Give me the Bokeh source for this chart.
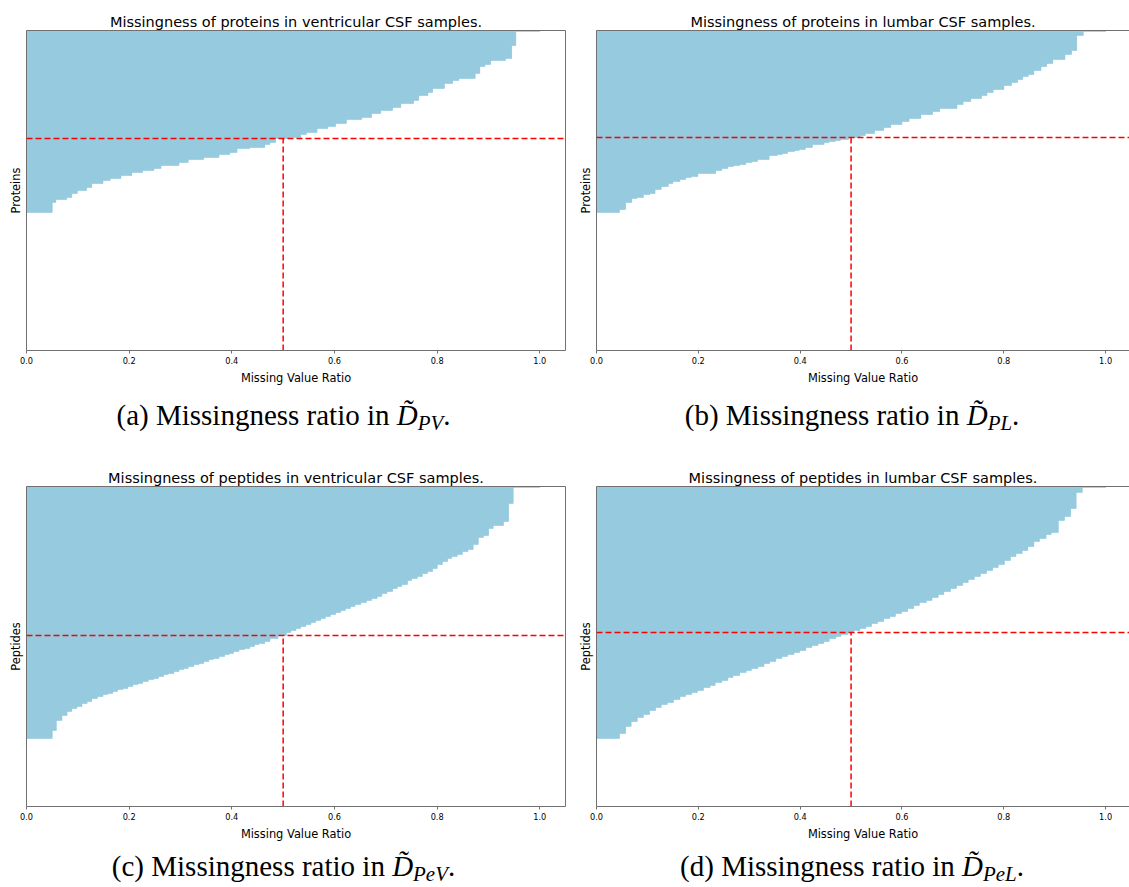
import numpy as np
from bokeh.plotting import figure
from bokeh.models import Span, LinearAxis, Div, Range1d, FixedTicker
from bokeh.layouts import row, column
from bokeh.embed import file_html
from bokeh.resources import INLINE

# ---------------- data ----------------
THRESHOLD = 0.5
X_TICKS = [0.0, 0.2, 0.4, 0.6, 0.8, 1.0]
X_TICK_LABELS = ["0.0", "0.2", "0.4", "0.6", "0.8", "1.0"]

TITLES = ["Missingness of proteins in ventricular CSF samples.",
          "Missingness of proteins in lumbar CSF samples.",
          "Missingness of peptides in ventricular CSF samples.",
          "Missingness of peptides in lumbar CSF samples."]
Y_LABELS = ["Proteins", "Proteins", "Peptides", "Peptides"]
X_LABEL = "Missing Value Ratio"
CAPTION_PREFIX = ["(a) Missingness ratio in ", "(b) Missingness ratio in ",
                  "(c) Missingness ratio in ", "(d) Missingness ratio in "]
CAPTION_SUB = ["PV", "PL", "PeV", "PeL"]

# missing-value ratio levels (sorted, highest first) and number of features at each level
prot_vent_ratio = [1.0, 0.953, 0.945, 0.933, 0.904, 0.893, 0.883, 0.874, 0.842, 0.83,
                   0.814, 0.791, 0.782, 0.764, 0.754, 0.729, 0.713, 0.69, 0.672, 0.653,
                   0.623, 0.602, 0.587, 0.566, 0.545, 0.534, 0.51, 0.485, 0.474, 0.464,
                   0.435, 0.41, 0.396, 0.375, 0.345, 0.315, 0.297, 0.262, 0.248, 0.226,
                   0.205, 0.184, 0.163, 0.149, 0.127, 0.117, 0.099, 0.088, 0.078, 0.057,
                   0.05, 0.0]
prot_vent_count = [1, 14, 13, 2, 4, 2, 7, 5, 2, 3,
                   5, 4, 3, 5, 3, 4, 3, 3, 4, 2,
                   4, 3, 2, 4, 2, 3, 1, 4, 2, 3,
                   1, 4, 2, 3, 2, 3, 3, 3, 2, 2,
                   3, 3, 2, 3, 4, 3, 3, 4, 2, 3,
                   10, 138]

prot_lumb_ratio = [1.0, 0.956, 0.943, 0.933, 0.92, 0.896, 0.884, 0.873, 0.859, 0.848,
                   0.837, 0.827, 0.815, 0.8, 0.779, 0.767, 0.756, 0.735, 0.72, 0.708,
                   0.674, 0.66, 0.637, 0.614, 0.6, 0.578, 0.564, 0.546, 0.528, 0.518,
                   0.495, 0.479, 0.469, 0.457, 0.447, 0.424, 0.41, 0.398, 0.389, 0.375,
                   0.365, 0.355, 0.339, 0.316, 0.305, 0.293, 0.281, 0.269, 0.258, 0.246,
                   0.234, 0.199, 0.186, 0.175, 0.164, 0.15, 0.141, 0.127, 0.115, 0.105,
                   0.092, 0.079, 0.069, 0.057, 0.045, 0.0]
prot_lumb_count = [1, 4, 15, 4, 5, 4, 3, 4, 4, 2,
                   3, 3, 3, 4, 3, 3, 3, 3, 3, 4,
                   3, 3, 4, 3, 3, 3, 3, 3, 2, 2,
                   2, 1, 1, 1, 2, 3, 2, 1, 1, 2,
                   1, 1, 4, 2, 1, 2, 1, 1, 2, 2,
                   3, 3, 1, 2, 2, 2, 3, 3, 4, 1,
                   3, 1, 4, 7, 3, 138]

pep_vent_ratio = [1.0, 0.948, 0.939, 0.929, 0.909, 0.9, 0.89, 0.88, 0.87, 0.86,
                  0.849, 0.839, 0.828, 0.82, 0.81, 0.8, 0.791, 0.781, 0.771, 0.761,
                  0.75, 0.742, 0.731, 0.722, 0.713, 0.702, 0.692, 0.683, 0.672, 0.662,
                  0.651, 0.64, 0.631, 0.621, 0.612, 0.602, 0.592, 0.582, 0.573, 0.563,
                  0.554, 0.544, 0.534, 0.525, 0.515, 0.506, 0.49, 0.474, 0.464, 0.453,
                  0.444, 0.435, 0.425, 0.414, 0.403, 0.395, 0.386, 0.375, 0.364, 0.355,
                  0.345, 0.336, 0.326, 0.315, 0.306, 0.297, 0.287, 0.276, 0.267, 0.257,
                  0.248, 0.237, 0.226, 0.217, 0.207, 0.197, 0.188, 0.177, 0.168, 0.158,
                  0.149, 0.138, 0.127, 0.118, 0.108, 0.098, 0.088, 0.079, 0.069, 0.058,
                  0.05, 0.0]
pep_vent_count = [1, 16, 18, 4, 3, 7, 2, 7, 5, 2,
                  3, 2, 2, 3, 3, 4, 3, 2, 3, 2,
                  2, 4, 2, 2, 3, 2, 3, 2, 2, 2,
                  2, 2, 2, 2, 2, 2, 2, 2, 2, 2,
                  2, 2, 2, 2, 2, 3, 3, 3, 2, 1,
                  2, 2, 1, 2, 2, 1, 2, 2, 1, 2,
                  2, 1, 2, 2, 1, 2, 2, 1, 2, 2,
                  1, 2, 2, 1, 2, 2, 1, 2, 2, 1,
                  2, 2, 3, 2, 3, 2, 3, 4, 5, 10,
                  8, 68]

pep_lumb_ratio = [1.0, 0.954, 0.942, 0.931, 0.919, 0.907, 0.893, 0.883, 0.87, 0.859,
                  0.847, 0.836, 0.824, 0.813, 0.801, 0.789, 0.778, 0.766, 0.754, 0.742,
                  0.73, 0.719, 0.707, 0.695, 0.682, 0.671, 0.659, 0.648, 0.634, 0.623,
                  0.611, 0.599, 0.587, 0.576, 0.564, 0.552, 0.54, 0.529, 0.517, 0.505,
                  0.494, 0.48, 0.47, 0.457, 0.446, 0.435, 0.423, 0.411, 0.399, 0.388,
                  0.375, 0.364, 0.352, 0.34, 0.329, 0.317, 0.304, 0.294, 0.281, 0.268,
                  0.258, 0.246, 0.233, 0.223, 0.21, 0.198, 0.187, 0.175, 0.164, 0.151,
                  0.139, 0.127, 0.116, 0.104, 0.092, 0.08, 0.068, 0.057, 0.045, 0.0]
pep_lumb_count = [1, 5, 16, 8, 4, 12, 2, 4, 3, 5,
                  4, 3, 3, 4, 4, 3, 3, 3, 3, 3,
                  3, 3, 3, 3, 3, 3, 3, 2, 3, 3,
                  3, 2, 3, 2, 3, 2, 3, 2, 2, 2,
                  2, 2, 2, 3, 2, 2, 2, 3, 2, 2,
                  2, 2, 3, 2, 3, 2, 2, 2, 3, 2,
                  3, 2, 3, 2, 3, 2, 2, 2, 3, 3,
                  2, 3, 3, 4, 3, 4, 5, 7, 5, 68]

# ---------------- style ----------------
BAR_COLOR = "#92c8de"
SPINE = "#707070"
SANS = "DejaVu Sans"
SERIF = "Liberation Serif"


def no_tick_axis():
    return LinearAxis(ticker=FixedTicker(ticks=[]), major_label_text_font_size="0px",
                      major_tick_out=0, major_tick_in=0, minor_tick_out=0, minor_tick_in=0,
                      major_label_standoff=0, axis_line_color=SPINE, axis_line_width=1)


def make_panel(title, ylabel, ratios, counts, width, height, x_end,
               border_left, border_top, border_bottom, border_right, right_spine):
    vals = np.repeat(np.asarray(ratios, dtype=float), np.asarray(counts, dtype=int))
    n = len(vals)
    ys = n - 0.5 - np.arange(n)
    n_above = int(np.sum(vals > THRESHOLD))
    thr_y = n - n_above

    p = figure(width=width, height=height, x_range=Range1d(0, x_end), y_range=Range1d(0, n),
               output_backend="svg", toolbar_location=None, title=title,
               min_border_left=border_left, min_border_right=border_right,
               min_border_top=border_top, min_border_bottom=border_bottom)
    p.outline_line_color = None
    p.grid.visible = False
    p.background_fill_color = "white"
    p.border_fill_color = "white"

    p.title.text_font = SANS
    p.title.text_font_size = "14.5px"
    p.title.text_font_style = "normal"
    p.title.text_color = "black"
    p.title.align = "center"
    p.title.standoff = 2

    p.hbar(y=ys, left=0, right=vals, height=1.0, fill_color=BAR_COLOR,
           line_color=BAR_COLOR, line_width=0.6)

    p.add_layout(Span(location=thr_y, dimension="width", line_color="red",
                      line_dash="6 3", line_width=1.5))
    p.segment(x0=[THRESHOLD], y0=[0], x1=[THRESHOLD], y1=[thr_y],
              line_color="red", line_dash="6 3", line_width=1.5)

    xa = p.xaxis[0]
    xa.ticker = FixedTicker(ticks=X_TICKS)
    xa.major_label_overrides = {t: l for t, l in zip(X_TICKS, X_TICK_LABELS)}
    xa.major_label_text_font = SANS
    xa.major_label_text_font_size = "8.2px"
    xa.major_label_text_color = "black"
    xa.major_label_standoff = 3
    xa.major_tick_out = 3
    xa.major_tick_in = 0
    xa.minor_tick_out = 0
    xa.minor_tick_in = 0
    xa.major_tick_line_color = SPINE
    xa.axis_line_color = SPINE
    xa.axis_label = X_LABEL
    xa.axis_label_text_font = SANS
    xa.axis_label_text_font_size = "11.4px"
    xa.axis_label_text_font_style = "normal"
    xa.axis_label_text_color = "black"
    xa.axis_label_standoff = 4

    ya = p.yaxis[0]
    ya.ticker = FixedTicker(ticks=[])
    ya.major_label_text_font_size = "0px"
    ya.major_tick_out = 0
    ya.major_tick_in = 0
    ya.minor_tick_out = 0
    ya.minor_tick_in = 0
    ya.major_label_standoff = 0
    ya.axis_line_color = SPINE
    ya.axis_label = ylabel
    ya.axis_label_text_font = SANS
    ya.axis_label_text_font_size = "11.4px"
    ya.axis_label_text_font_style = "normal"
    ya.axis_label_text_color = "black"
    ya.axis_label_standoff = 4

    p.add_layout(no_tick_axis(), "above")
    if right_spine:
        p.add_layout(no_tick_axis(), "right")
    return p


def caption(prefix, sub, width, height, inner_left, inner_width, top):
    html = ('<div style="margin-left:%dpx;width:%dpx;padding-top:%dpx;text-align:center;'
            'font-family:\'%s\',serif;font-size:29px;line-height:29px;color:#000;'
            'white-space:nowrap;">%s<i>D&#771;</i>'
            '<span style="font-size:0.72em;font-style:italic;position:relative;top:0.25em;">%s</span>.'
            '</div>') % (inner_left, inner_width, top, SERIF, prefix, sub)
    return Div(text=html, width=width, height=height, margin=(0, 0, 0, 0))


W_LEFT, W_RIGHT = 575, 554
X_END_LEFT = 1.05
X_END_RIGHT = 536 / 512  # right frame is 536 px wide at 512 px per unit

pa = make_panel(TITLES[0], Y_LABELS[0], prot_vent_ratio, prot_vent_count,
                W_LEFT, 392, X_END_LEFT, 26, 30, 42, 10, True)
pb = make_panel(TITLES[1], Y_LABELS[1], prot_lumb_ratio, prot_lumb_count,
                W_RIGHT, 392, X_END_RIGHT, 18, 30, 42, 0, False)
pc = make_panel(TITLES[2], Y_LABELS[2], pep_vent_ratio, pep_vent_count,
                W_LEFT, 396, X_END_LEFT, 26, 36, 40, 10, True)
pd = make_panel(TITLES[3], Y_LABELS[3], pep_lumb_ratio, pep_lumb_count,
                W_RIGHT, 396, X_END_RIGHT, 18, 36, 40, 0, False)

ca = caption(CAPTION_PREFIX[0], CAPTION_SUB[0], W_LEFT, 58, 0, 567, 9)
cb = caption(CAPTION_PREFIX[1], CAPTION_SUB[1], W_RIGHT, 58, 0, 554, 9)
cc = caption(CAPTION_PREFIX[2], CAPTION_SUB[2], W_LEFT, 40, 0, 567, 6)
cd = caption(CAPTION_PREFIX[3], CAPTION_SUB[3], W_RIGHT, 40, 0, 554, 6)

layout = column(row(pa, pb), row(ca, cb), row(pc, pd), row(cc, cd))

with open("out.html", "w") as f:
    f.write(file_html(layout, INLINE))
